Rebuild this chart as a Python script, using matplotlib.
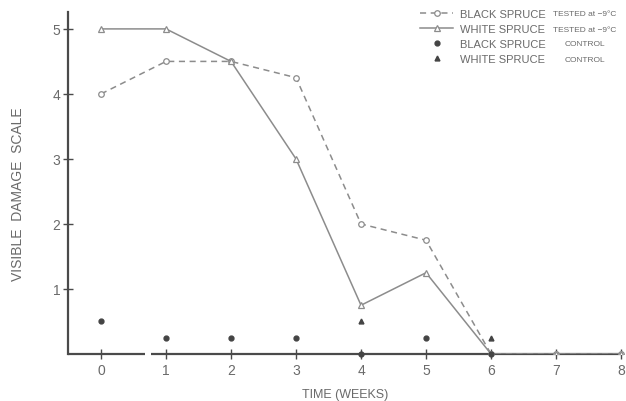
"""Visible damage of spruce seedlings over time (tested at -9 C vs control)."""

import matplotlib

matplotlib.use("Agg")
import matplotlib.pyplot as plt
from matplotlib.legend_handler import HandlerLine2D

weeks = [0, 1, 2, 3, 4, 5, 6, 7, 8]
black_tested = [4.0, 4.5, 4.5, 4.25, 2.0, 1.75, 0.0, 0.0, 0.0]
white_tested = [5.0, 5.0, 4.5, 3.0, 0.75, 1.25, 0.0, 0.0, 0.0]
black_ctrl_weeks = [0, 1, 2, 3, 4, 5, 6]
black_ctrl = [0.5, 0.25, 0.25, 0.25, 0.0, 0.25, 0.0]
white_ctrl_weeks = [4, 6]
white_ctrl = [0.5, 0.25]

TEXT = "#6a6a6a"
LINE = "#8c8c8c"
AXIS = "#4a4a4a"


class EndMarker(HandlerLine2D):
    """Legend handle with the marker at the right end of the line."""

    def get_xdata(self, legend, xdescent, ydescent, width, height, fontsize):
        xdata, _ = super().get_xdata(legend, xdescent, ydescent, width, height, fontsize)
        return xdata, [xdata[-1]]


def main() -> None:
    plt.rcParams["font.family"] = ["Liberation Sans", "DejaVu Sans"]
    fig = plt.figure(figsize=(6.26, 4.02), dpi=100)
    ax = fig.add_axes([68 / 626, 47 / 402, 556 / 626, 342 / 402])

    (l1,) = ax.plot(weeks, black_tested, ls=(0, (4, 3)), color=LINE, lw=1.1,
                    marker="o", ms=4, mfc="white", mec=LINE, mew=0.9, zorder=3)
    (l2,) = ax.plot(weeks, white_tested, ls="-", color=LINE, lw=1.1,
                    marker="^", ms=4, mfc="white", mec=LINE, mew=0.9, zorder=3)
    (l3,) = ax.plot(black_ctrl_weeks, black_ctrl, ls="none", marker="o", ms=3.5,
                    color="#444444", zorder=4, clip_on=False)
    (l4,) = ax.plot(white_ctrl_weeks, white_ctrl, ls="none", marker="^", ms=3.5,
                    color="#444444", zorder=4, clip_on=False)

    ax.set_xlim(-0.508, 8.046)
    ax.set_ylim(0, 5.26)

    # axes: left spine, bottom line drawn in two parts with a break between 0 and 1
    for side in ("top", "right", "bottom"):
        ax.spines[side].set_visible(False)
    ax.spines["left"].set_color(AXIS)
    ax.spines["left"].set_linewidth(1.6)
    ax.hlines([0, 0], [-0.508, 0.77], [0.68, 8.046], color=AXIS, lw=1.6,
              zorder=2, clip_on=False)

    ax.set_xticks(weeks)
    ax.set_yticks([1, 2, 3, 4, 5])
    ax.tick_params(direction="inout", length=7, width=1.0, color=AXIS,
                   labelcolor=TEXT, labelsize=10)
    ax.tick_params(axis="x", pad=3)
    ax.tick_params(axis="y", pad=2)

    ax.set_xlabel("TIME (WEEKS)", color=TEXT, fontsize=9)
    ax.set_ylabel("VISIBLE  DAMAGE  SCALE", color=TEXT, fontsize=10)
    ax.xaxis.set_label_coords(0.498, -0.098)
    ax.yaxis.set_label_coords(-0.078, 0.47)

    leg = ax.legend(
        [l1, l2, l3, l4],
        ["BLACK SPRUCE", "WHITE SPRUCE", "BLACK SPRUCE", "WHITE SPRUCE"],
        handler_map={l1: EndMarker(), l2: EndMarker(), l3: EndMarker(), l4: EndMarker()},
        loc="upper left",
        bbox_to_anchor=(420 / 626, 1 - 10 / 402),
        bbox_transform=fig.transFigure,
        frameon=False,
        fontsize=8,
        handlelength=3.0,
        handletextpad=0.6,
        labelspacing=0.45,
        borderpad=0,
        borderaxespad=0,
    )
    for t in leg.get_texts():
        t.set_color(TEXT)

    # small qualifier text next to each legend entry
    fig.canvas.draw()
    suffixes = ["TESTED at \u22129\u00b0C", "TESTED at \u22129\u00b0C", "CONTROL", "CONTROL"]
    xs = [553, 553, 565, 565]
    inv = fig.transFigure.inverted()
    for t, s, x in zip(leg.get_texts(), suffixes, xs):
        bb = t.get_window_extent()
        _, yc = inv.transform((0, (bb.y0 + bb.y1) / 2))
        fig.text(x / 626, yc, s, fontsize=6, color=TEXT, va="center", ha="left")

    fig.savefig("out.png", dpi=100)


if __name__ == "__main__":
    main()
